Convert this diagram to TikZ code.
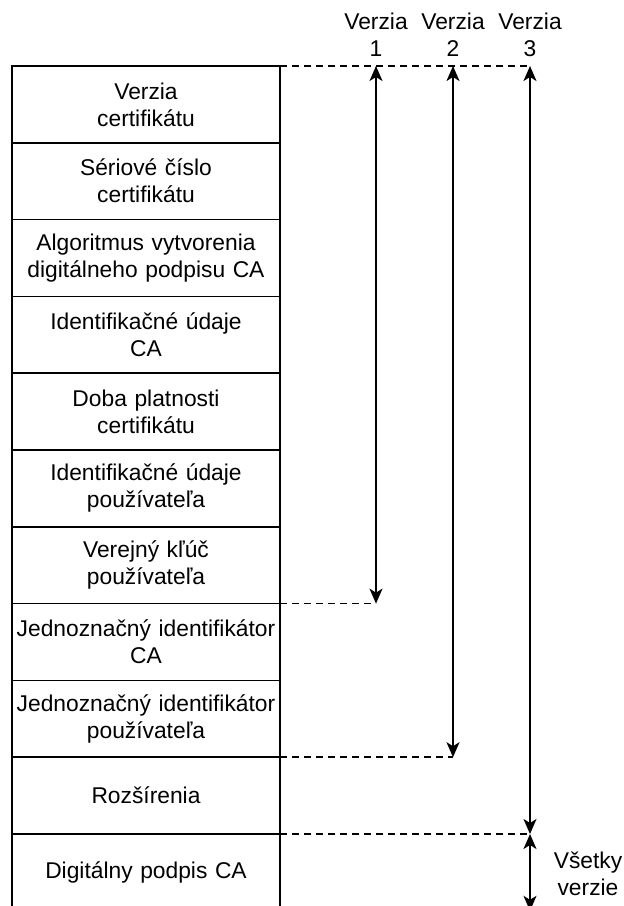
\documentclass[tikz,border=0pt]{standalone}
\usepackage{fontspec}
\setmainfont{Liberation Sans}
\usetikzlibrary{arrows.meta}
\begin{document}
\begin{tikzpicture}[x=1pt,y=-1pt,
  field/.style={draw, line width=1.6pt, outer sep=0pt, minimum width=268pt, minimum height=76.8pt, align=center, inner sep=0pt, text width=266pt, font=\fontsize{22.8}{27}\selectfont},
  lbl/.style={align=center, inner sep=0pt, font=\fontsize{22.8}{27}\selectfont},
  guide/.style={line width=1.5pt, dash pattern=on 7pt off 5pt},
  span/.style={line width=1.6pt, {Stealth[length=15pt,width=13pt,inset=4pt]}-{Stealth[length=15pt,width=13pt,inset=4pt]}}]
\useasboundingbox (0,0) rectangle (624,906);
\clip (0,0) rectangle (624,906);
% fields
\node[field] (b1)  at (146,104.4) {Verzia\\certifikátu};
\node[field] (b2)  at (146,181.2) {Sériové číslo\\certifikátu};
\node[field] (b3)  at (146,258.0) {Algoritmus vytvorenia\\digitálneho podpisu CA};
\node[field] (b4)  at (146,334.8) {Identifikačné údaje\\CA};
\node[field] (b5)  at (146,411.6) {Doba platnosti\\certifikátu};
\node[field] (b6)  at (146,488.4) {Identifikačné údaje\\používateľa};
\node[field] (b7)  at (146,565.2) {Verejný kľúč\\používateľa};
\node[field] (b8)  at (146,642.0) {Jednoznačný identifikátor\\CA};
\node[field] (b9)  at (146,718.8) {Jednoznačný identifikátor\\používateľa};
\node[field] (b10) at (146,795.6) {Rozšírenia};
\node[field] (b11) at (146,872.4) {Digitálny podpis CA};
% version labels
\node[lbl] (v1) at (376,35) {Verzia\\1};
\node[lbl] (v2) at (453,35) {Verzia\\2};
\node[lbl] (v3) at (530,35) {Verzia\\3};
\node[lbl] (va) at (588,874) {Všetky\\verzie};
% coordinates
\coordinate (tl) at (220,66);
\coordinate (t1) at (376,66);
\coordinate (t2) at (453,66);
\coordinate (t3) at (530,66);
\coordinate (e1) at (376,603.6);
\coordinate (e2) at (453,757.2);
\coordinate (e3) at (530,834);
\coordinate (ea) at (530,910.8);
% guides
\draw[guide] (tl) -- (t3);
\draw[guide] (e1 -| b7.east) -- (e1);
\draw[guide] (e2 -| b9.east) -- (e2);
\draw[guide] (e3 -| b10.east) -- (e3);
% spans
\draw[span] (t1) -- (e1);
\draw[span] (t2) -- (e2);
\draw[span] (t3) -- (e3);
\draw[span] (e3) -- (ea);
\end{tikzpicture}
\end{document}
